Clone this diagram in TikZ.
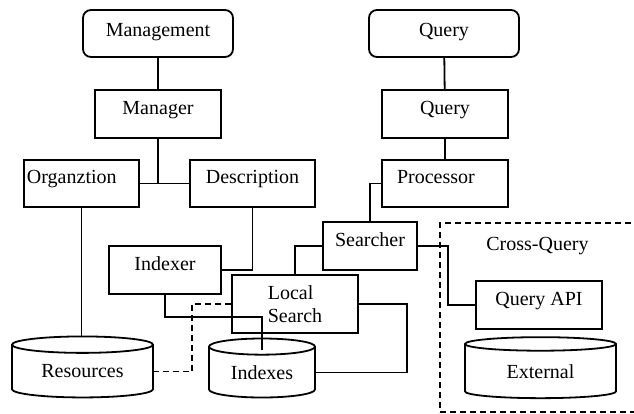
\documentclass[tikz,border=0pt]{standalone}
\usepackage{fontspec}
\setmainfont{Liberation Serif}
\usetikzlibrary{shapes.geometric}

\tikzset{
  frame/.style={draw, line width=1.8pt, minimum width=126pt, minimum height=48pt,
    inner sep=3pt, font=\fontsize{20}{23}\selectfont},
  box/.style={frame, text height=14pt, text depth=13pt},
  topbox/.style={box, rounded corners=8pt, minimum width=150pt, minimum height=47pt, text depth=8pt},
  store/.style={draw, line width=1.8pt, cylinder, shape border rotate=90, aspect=0.2,
    minimum height=61pt, inner sep=0pt, font=\fontsize{20}{23}\selectfont},
  link/.style={line width=1.8pt},
  dlink/.style={link, dash pattern=on 6pt off 4pt},
}

\begin{document}
\begin{tikzpicture}[x=1pt, y=-1pt]
    \useasboundingbox (0,0) rectangle (634,414);
    % management side
    \node[topbox](mgmt) at (158,33.5){Management};
    \node[box](mgr) at (158,114){Manager};
    \node[box, minimum width=115pt, minimum height=47pt, text width=109pt, align=left](org) at (81.5,183.5){Organztion};
    \node[box, minimum width=125pt, minimum height=47pt](desc) at (252.5,183.5){Description};
    \node[box, minimum width=112pt](idxr) at (165,270){Indexer};
    % query side
    \node[topbox](qtop) at (444,33.5){Query};
    \node[box](qry) at (445,114){Query};
    \node[box, minimum height=47pt, text width=96pt, inner xsep=15pt, align=left](proc) at (445,183.5){Processor};
    \node[box, minimum width=94pt](srch) at (370,246){Searcher};
    \node[frame, minimum height=58pt, align=left](local) at (295,304){Local\\Search};
    % stores
    \node[store, minimum width=141pt](res) at (82.5,371.5){Resources};
    \node[store, minimum width=106pt, minimum height=59pt, aspect=0.26](idx) at (262,372.5){Indexes};
    % cross-query
    \node[draw, dlink, minimum width=196pt, minimum height=189pt](xbox) at (538,317.5){};
    \node[font=\fontsize{20}{23}\selectfont](xlbl) at (537.5,246){Cross-Query};
    \node[box](api) at (539,305){Query API};
    \node[store, minimum width=151pt](ext) at (540.5,371.5){External};

    \draw[link](mgmt)--(mgr);
    \draw[link](mgr)--(mgr |- org.east);
    \draw[link](org)--(desc);
    \draw[link](org)--(org |- res.north);
    \draw[link](desc)|-(idxr);
    \draw[link](idxr)--++(0,47)-|([yshift=-12pt]idx.north);
    \draw[dlink](local.west)--++(-39,0)|-(res);
    \draw[link](local.east)--++(48,0)|-(idx);
    \draw[link](srch.west)-|(local.north);
    \draw[link](qtop)--(qry);
    \draw[link](qry)--(proc);
    \draw[link](proc.west)-|(srch.north);
    \draw[link](srch.east)--++(30,0)|-(api.west);
\end{tikzpicture}
\end{document}
